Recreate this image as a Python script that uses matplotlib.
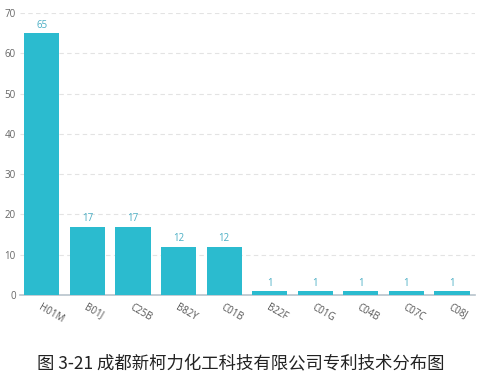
import matplotlib
matplotlib.use("Agg")
import matplotlib.pyplot as plt

categories = ["H01M", "B01J", "C25B", "B82Y", "C01B", "B22F", "C01G", "C04B", "C07C", "C08J"]
values = [65, 17, 17, 12, 12, 1, 1, 1, 1, 1]
yticks = [0, 10, 20, 30, 40, 50, 60, 70]
caption = "图 3-21 成都新柯力化工科技有限公司专利技术分布图"

plt.rcParams['font.family'] = ['Noto Sans CJK SC', 'DejaVu Sans']

fig = plt.figure(figsize=(4.82, 3.8), dpi=100)
ax = fig.add_axes([0.0415, 0.2237, 0.9435, 0.742])

x = range(len(categories))
bar_color = "#2bbbcf"
ax.bar(x, values, width=0.77, color=bar_color, zorder=3)
for xi, v in zip(x, values):
    ax.text(xi, v + 0.6, str(v), ha='center', va='bottom', fontsize=7,
            color="#4aaec4", family=['Open Sans', 'DejaVu Sans'])

ax.set_ylim(0, 70)
ax.set_xlim(-0.48, 9.5)
ax.set_yticks(yticks)
ax.set_yticklabels([str(t) for t in yticks], fontsize=7, color="#666666",
                   family=['Open Sans', 'DejaVu Sans'])
ax.set_xticks(list(x))
ax.set_xticklabels(categories, fontsize=7, color="#555555", rotation=-30,
                   ha='left', rotation_mode='anchor', family=['Open Sans', 'DejaVu Sans'])

ax.yaxis.grid(True, linestyle=(0, (4, 3)), color="#e3e3e3", linewidth=0.8, zorder=0)
ax.xaxis.grid(False)
for s in ["top", "right", "left"]:
    ax.spines[s].set_visible(False)
ax.spines["bottom"].set_color("#b8c4cc")
ax.spines["bottom"].set_linewidth(1.2)
ax.tick_params(axis='both', length=0, pad=3)
ax.tick_params(axis='x', pad=5)

fig.text(0.5, 0.045, caption, ha='center', va='center', fontsize=12.5, color="#222222")

fig.savefig("out.png", dpi=100)
